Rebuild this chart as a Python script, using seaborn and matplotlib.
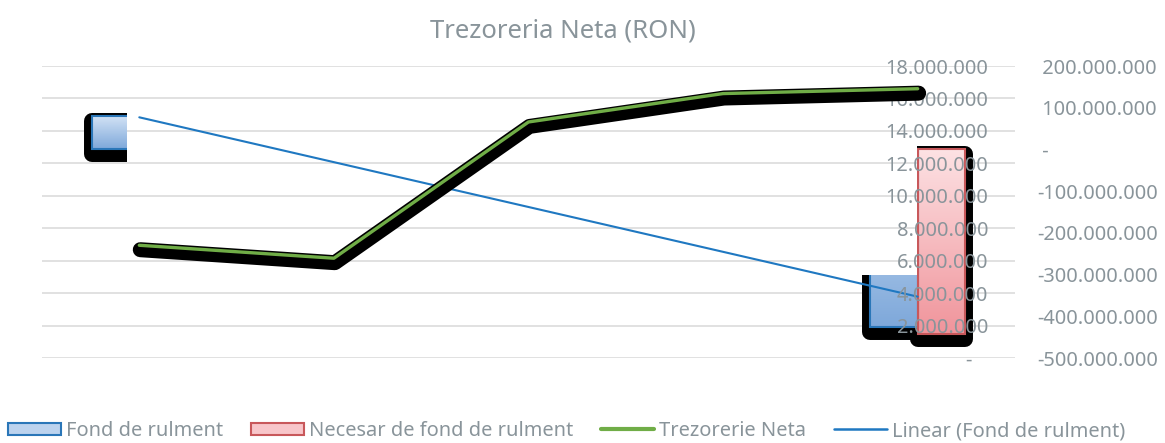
import numpy as np
import pandas as pd
import matplotlib
matplotlib.use("Agg")
import matplotlib.pyplot as plt
import seaborn as sns
from matplotlib import patheffects as pe
from matplotlib.patches import Rectangle, Polygon, Patch
from matplotlib.lines import Line2D
from matplotlib.colors import LinearSegmentedColormap

# ---- data (RON) ----
ani = ["Anul 1", "Anul 2", "Anul 3", "Anul 4", "Anul 5"]
fond_rulment = [79.0e6, -75.0e6, -127.0e6, -142.0e6, -425.0e6]
necesar_fond_rulment = [72.05e6, -81.15e6, -141.55e6, -158.30e6, -441.60e6]
trezorerie_neta = [6.95e6, 6.15e6, 14.55e6, 16.30e6, 16.60e6]

ticks_trezorerie = [0, 2e6, 4e6, 6e6, 8e6, 10e6, 12e6, 14e6, 16e6, 18e6]
ticks_fond = [-500e6, -400e6, -300e6, -200e6, -100e6, 0, 100e6, 200e6]

serie_fond = "Fond de rulment"
serie_necesar = "Necesar de fond de rulment"
serie_trez = "Trezorerie Neta"
serie_trend = "Linear (Fond de rulment)"
titlu = "Trezoreria Neta (RON)"

# ---- style ----
sns.set_theme(style="white")
plt.rcParams["font.family"] = ["Noto Sans", "DejaVu Sans"]
TEXT = "#89949A"
GRID = "#D9D9D9"
GREEN = "#70AD47"
TREND = "#1F78C1"
BLUE_EDGE, RED_EDGE = "#2A76B8", "#C8585B"
BLUE_TOP, BLUE_BOT = "#D2E2F5", "#7EA8DA"
RED_TOP, RED_BOT = "#FDE2E4", "#F0949B"
FS = 14.4


def fmt_num(v, lead=""):
    if v == 0:
        return lead + "-"
    s = f"{abs(v):,.0f}".replace(",", ".")
    return ("-" if v < 0 else lead) + s


W, H = 1165, 443
fig = plt.figure(figsize=(W / 100, H / 100), dpi=100)
fig.patch.set_facecolor("white")
pos = [42 / W, 1 - 358 / H, (1015 - 42) / W, (358 - 66) / H]
ax_grid = fig.add_axes(pos)
ax_bar = ax_grid.twinx()
ax_line = ax_grid.twinx()

idx = np.arange(len(ani))
XLIM = (-0.5, len(ani) - 0.5)
YLIM_T = (0, 18e6)
YLIM_F = (-500e6, 200e6)

# ---- bars: Fond de rulment / Necesar de fond de rulment (right outer scale) ----
df_bar = pd.DataFrame({
    "poz": np.concatenate([idx, idx]),
    "valoare": fond_rulment + necesar_fond_rulment,
    "serie": [serie_fond] * len(ani) + [serie_necesar] * len(ani),
})
sns.barplot(data=df_bar, x="poz", y="valoare", hue="serie",
            hue_order=[serie_fond, serie_necesar], palette=["black", "black"],
            width=0.49, gap=0, saturation=1, errorbar=None, legend=False,
            ax=ax_bar)

ax_bar.set_autoscale_on(False)
ax_bar.set_xlim(*XLIM)
ax_bar.set_ylim(*YLIM_F)

# region of the plot where the bars are masked by the upper panel
x_mask0, x_mask1, y_mask = -0.063, 3.997, -300e6
visible = Polygon([(XLIM[0], YLIM_F[1]), (x_mask0, YLIM_F[1]), (x_mask0, y_mask),
                   (x_mask1, y_mask), (x_mask1, YLIM_F[1]), (XLIM[1], YLIM_F[1]),
                   (XLIM[1], YLIM_F[0]), (XLIM[0], YLIM_F[0])],
                  closed=True, transform=ax_bar.transData)

grad = np.linspace(0, 1, 256).reshape(-1, 1)
styles = [(BLUE_BOT, BLUE_TOP, BLUE_EDGE), (RED_BOT, RED_TOP, RED_EDGE)]
for cont, (c_lo, c_hi, edge) in zip(ax_bar.containers, styles):
    cmap = LinearSegmentedColormap.from_list("g", [c_lo, c_hi])
    for bar in cont:
        bar.set_zorder(1)
        bar.set_edgecolor("black")
        bar.set_path_effects([pe.Stroke(linewidth=11.5, foreground="black",
                                        offset=(0, -3.6), joinstyle="round")])
        bar.set_clip_path(visible)
        x0, y0 = bar.get_xy()
        w, h = bar.get_width(), bar.get_height()
        lo, hi = min(y0, y0 + h), max(y0, y0 + h)
        im = ax_bar.imshow(grad, cmap=cmap, extent=(x0, x0 + w, lo, hi),
                           origin="lower", aspect="auto",
                           interpolation="bilinear", zorder=3)
        im.set_clip_path(visible)
        outline = Rectangle((x0, y0), w, h, fill=False, edgecolor=edge,
                            linewidth=1.5, zorder=4)
        ax_bar.add_patch(outline)
        outline.set_clip_path(visible)

# linear trend of Fond de rulment
panta, interceptie = np.polyfit(idx, fond_rulment, 1)
trend = interceptie + panta * idx
sns.lineplot(x=idx, y=trend, ax=ax_bar, color=TREND, linewidth=1.5, zorder=5)

# ---- Trezorerie Neta (inner scale) ----
sns.lineplot(x=idx, y=trezorerie_neta, ax=ax_line, color=GREEN, linewidth=2.4,
             solid_capstyle="round", solid_joinstyle="round")
ax_line.lines[-1].set_path_effects([
    pe.Stroke(linewidth=10.8, foreground="black", offset=(0.7, -3.2),
              capstyle="round", joinstyle="round"),
    pe.Normal()])

# ---- axes / ticks ----
for a in (ax_grid, ax_bar, ax_line):
    a.set_xlim(*XLIM)
    a.set_xlabel("")
    a.set_ylabel("")
    a.tick_params(axis="x", bottom=False, labelbottom=False, top=False, labeltop=False)
    for s in a.spines.values():
        s.set_visible(False)

ax_grid.set_facecolor("white")
ax_grid.set_ylim(*YLIM_T)
ax_grid.set_yticks(ticks_trezorerie)
ax_grid.grid(axis="y", color=GRID, linewidth=1.1)
ax_grid.grid(axis="x", visible=False)
ax_grid.tick_params(axis="y", left=False, labelleft=False, right=False, labelright=False)

ax_line.set_ylim(*YLIM_T)
ax_line.set_yticks(ticks_trezorerie)
ax_line.set_yticklabels([fmt_num(v) if v else "-   " for v in ticks_trezorerie])
ax_line.tick_params(axis="y", left=False, labelleft=False, right=False, length=0,
                    labelright=True, pad=-19.4, labelcolor=TEXT, labelsize=FS)
plt.setp(ax_line.get_yticklabels(), ha="right")
ax_line.grid(False)

ax_bar.set_ylim(*YLIM_F)
ax_bar.set_yticks(ticks_fond)
ax_bar.set_yticklabels([fmt_num(v, lead=" ") for v in ticks_fond])
ax_bar.tick_params(axis="y", left=False, labelleft=False, right=False, length=0,
                   labelright=True, pad=15.8, labelcolor=TEXT, labelsize=FS)
ax_bar.grid(False)

# ---- title & legend ----
fig.text(562.5 / W, 1 - 31 / H, titlu, ha="center", va="center",
         color=TEXT, fontsize=18.5)

handles = [
    Patch(facecolor="#BCD3EE", edgecolor=BLUE_EDGE, linewidth=1.5),
    Patch(facecolor="#F8C6CA", edgecolor=RED_EDGE, linewidth=1.5),
    Line2D([], [], color=GREEN, linewidth=3.0),
    Line2D([], [], color=TREND, linewidth=1.8),
]
labels = [serie_fond, serie_necesar, serie_trez, serie_trend]
fig.legend(handles, labels, loc="center", bbox_to_anchor=(566.5 / W, 1 - 431 / H),
           ncol=4, frameon=False, fontsize=FS, labelcolor=TEXT,
           handlelength=2.65, handleheight=0.6, handletextpad=0.25,
           columnspacing=1.4, borderaxespad=0)

fig.savefig("out.png", dpi=100, facecolor="white")
